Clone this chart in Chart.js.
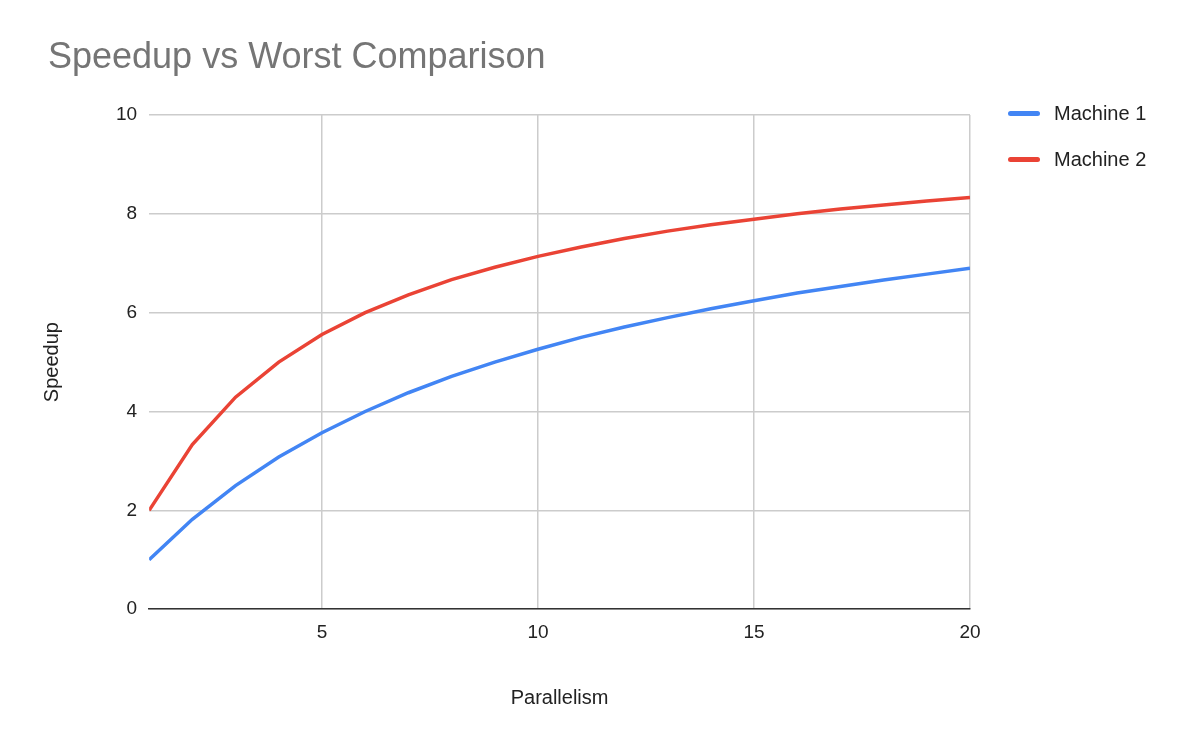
<!DOCTYPE html>
<html><head>
<script src="https://cdn.jsdelivr.net/npm/chart.js@4"></script>
<style>
body{margin:0;background:#fff;font-family:"Liberation Sans",Arial,sans-serif}
#wrap{position:relative;width:1200px;height:742px}
#title{position:absolute;left:48px;top:35px;font-size:36px;color:#757575}
#legend{position:absolute;left:1008px;top:90px;font-size:20px;color:#222}
.item{display:flex;align-items:center;height:46px}
.sw{width:32px;height:5px;border-radius:3px;margin-right:14px}
</style></head><body>
<div id="wrap">
<canvas id="c" width="1200" height="742"></canvas>
<div id="title">Speedup vs Worst Comparison</div>
<div id="legend"></div>
</div>
<script>
const parallelism = [1,2,3,4,5,6,7,8,9,10,11,12,13,14,15,16,17,18,19,20];
const machine1 = [1.0,1.82,2.5,3.08,3.57,4.0,4.38,4.71,5.0,5.26,5.5,5.71,5.9,6.08,6.24,6.4,6.53,6.66,6.78,6.9];
const machine2 = [2.0,3.33,4.29,5.0,5.56,6.0,6.36,6.67,6.92,7.14,7.33,7.5,7.65,7.78,7.89,8.0,8.1,8.18,8.26,8.33];
const xTicks = [5,10,15,20];
const yTicks = [0,2,4,6,8,10];

const series = [
  {label:'Machine 1', data:machine1, color:'#4285f4'},
  {label:'Machine 2', data:machine2, color:'#ea4335'},
];
document.getElementById('legend').innerHTML = series.map(s =>
  `<div class="item"><span class="sw" style="background:${s.color}"></span>${s.label}</div>`).join('');

Chart.defaults.font.family = '"Liberation Sans", Arial, sans-serif';
Chart.defaults.color = '#222';
new Chart(document.getElementById('c'), {
  type: 'line',
  data: {
    datasets: series.map(s => ({
      label: s.label,
      data: parallelism.map((x, i) => ({x, y: s.data[i]})),
      borderColor: s.color,
      borderWidth: 3.5,
      pointRadius: 0,
      tension: 0,
    })),
  },
  options: {
    responsive: false,
    animation: false,
    layout: {padding: {top: 115, right: 230, bottom: 28, left: 36}},
    plugins: {legend: {display: false}, tooltip: {enabled: false}},
    scales: {
      x: {
        type: 'linear', min: 1, max: 20,
        afterBuildTicks: ax => { ax.ticks = xTicks.map(v => ({value: v})); },
        grid: {color: '#cccccc', lineWidth: 1.5, drawTicks: false},
        border: {color: '#333', width: 1.5},
        ticks: {font: {size: 19}, padding: 12},
        title: {display: true, text: 'Parallelism', font: {size: 20}, padding: {top: 30}},
      },
      y: {
        min: 0, max: 10,
        afterBuildTicks: ax => { ax.ticks = yTicks.map(v => ({value: v})); },
        grid: {color: '#cccccc', lineWidth: 1.5, drawTicks: false},
        border: {display: false},
        ticks: {font: {size: 19}, padding: 12},
        title: {display: true, text: 'Speedup', font: {size: 20}, padding: {bottom: 40}},
      },
    },
  },
});
</script>
</body></html>
